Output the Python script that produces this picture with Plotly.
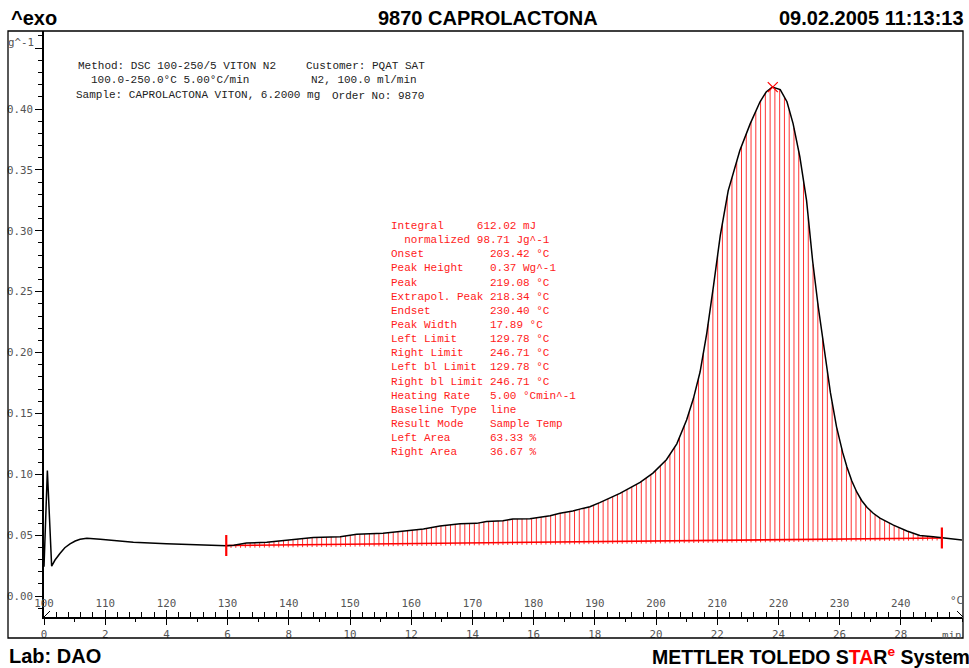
import numpy as np
import plotly.graph_objects as go

# ---------------- data ----------------
temp_c = [100.0, 100.55, 101.25, 101.8, 102.6, 103.4, 104.25, 105.1, 105.9, 107.0,
          109.2, 111.3, 114.6, 120.0, 125.5, 129.8, 131.0, 133.1, 136.4, 140.2,
          144.0, 148.4, 151.1, 155.4, 158.2, 162.0, 164.7, 168.0, 170.7, 172.3,
          175.0, 176.6, 179.4, 182.7, 184.3, 186.4, 188.0, 189.2, 190.8, 194.1,
          197.4, 199.5, 201.7, 203.4, 205.0, 206.1, 207.2, 208.3, 209.4, 210.5,
          211.8, 213.7, 215.4, 217.0, 218.0, 219.0, 220.3, 221.4, 222.4, 223.5,
          224.6, 225.6, 226.5, 227.5, 228.5, 229.5, 230.5, 231.2, 232.0, 232.8,
          233.6, 234.5, 235.5, 236.6, 238.8, 241.0, 243.1, 245.3, 246.7, 248.6,
          250.0]
heat_flow = [0.024, 0.103, 0.0246, 0.0296, 0.035, 0.0397, 0.0428, 0.0452, 0.0466, 0.0475,
             0.0467, 0.0455, 0.0442, 0.0430, 0.0420, 0.0413, 0.0418, 0.0435, 0.0441, 0.0460,
             0.0481, 0.0487, 0.0507, 0.0515, 0.0528, 0.0550, 0.0575, 0.0594, 0.0597, 0.0613,
             0.0619, 0.0632, 0.0635, 0.0660, 0.0680, 0.0698, 0.0720, 0.0734, 0.0767, 0.0843,
             0.0933, 0.1010, 0.1120, 0.1250, 0.1446, 0.1620, 0.1840, 0.2160, 0.2550, 0.2960,
             0.3330, 0.3660, 0.3880, 0.4060, 0.4140, 0.4180, 0.4160, 0.4060, 0.3880, 0.3610,
             0.3250, 0.2750, 0.2380, 0.2020, 0.1670, 0.1390, 0.1180, 0.1060, 0.0945, 0.0855,
             0.0785, 0.0728, 0.0680, 0.0640, 0.0583, 0.0534, 0.0498, 0.0487, 0.0479, 0.0466,
             0.0460]

baseline_temp = [129.78, 246.71]
baseline_val = [0.0415, 0.0477]
peak_temp = [219.08]
peak_val = [0.418]

temp_ticks = list(range(100, 250, 10))
time_ticks = list(range(0, 30, 2))
y_ticks = [0.00, 0.05, 0.10, 0.15, 0.20, 0.25, 0.30, 0.35, 0.40, 0.45]
y_ticktext = ["0.00", "0.05", "0.10", "0.15", "0.20", "0.25", "0.30", "0.35", "0.40", " "]

title_left = "^exo"
title_mid = "9870 CAPROLACTONA"
title_right = "09.02.2005 11:13:13"
footer_left = "Lab: DAO"

method_left = ["Method: DSC 100-250/5 VITON N2",
               "100.0-250.0°C 5.00°C/min",
               "Sample: CAPROLACTONA VITON, 6.2000 mg"]
method_right = ["Customer: PQAT SAT", "N2, 100.0 ml/min", "Order No: 9870"]

results_lines = [
    "Integral     612.02 mJ",
    "  normalized 98.71 Jg^-1",
    "Onset          203.42 °C",
    "Peak Height    0.37 Wg^-1",
    "Peak           219.08 °C",
    "Extrapol. Peak 218.34 °C",
    "Endset         230.40 °C",
    "Peak Width     17.89 °C",
    "Left Limit     129.78 °C",
    "Right Limit    246.71 °C",
    "Left bl Limit  129.78 °C",
    "Right bl Limit 246.71 °C",
    "Heating Rate   5.00 °Cmin^-1",
    "Baseline Type  line",
    "Result Mode    Sample Temp",
    "Left Area      63.33 %",
    "Right Area     36.67 %",
]

# ---------------- layout helpers ----------------
W, H = 969, 668
PL, PR, PT, PB = 44, 962, 31, 617


def px(x):
    return (x - PL) / (PR - PL)


def py(y):
    return (PB - y) / (PB - PT)


def nb(s):
    return s.replace(" ", "\u00a0")


MONO = "Liberation Mono"
SANSMONO = "DejaVu Sans Mono"
BOLD = "Liberation Sans"

# hatch lines between baseline and curve
N_HATCH = 151
hx = np.linspace(baseline_temp[0], baseline_temp[1], N_HATCH)
hb = np.interp(hx, baseline_temp, baseline_val)
hc = np.interp(hx, temp_c, heat_flow)
hatch_x, hatch_y = [], []
for a, b, c in zip(hx, hb, hc):
    hatch_x += [a, a, None]
    hatch_y += [b - 0.002, c, None]

fig = go.Figure()
fig.add_trace(go.Scatter(x=hatch_x, y=hatch_y, mode="lines",
                         line=dict(color="rgba(255,0,0,0.8)", width=1),
                         hoverinfo="skip", showlegend=False))
fig.add_trace(go.Scatter(x=baseline_temp, y=baseline_val, mode="lines",
                         line=dict(color="red", width=1.6), showlegend=False))
fig.add_trace(go.Scatter(x=temp_c, y=heat_flow, mode="lines",
                         line=dict(color="black", width=1.5), showlegend=False))
fig.add_trace(go.Scatter(x=peak_temp, y=peak_val, mode="markers",
                         marker=dict(symbol="x-thin-open", size=10, color="red",
                                     line=dict(color="red", width=1.2)),
                         showlegend=False))
fig.add_trace(go.Scatter(x=baseline_temp, y=baseline_val, mode="markers",
                         marker=dict(symbol="line-ns-open", size=15, color="red",
                                     line=dict(color="red", width=2.2)),
                         showlegend=False))
# time axis (dummy trace to attach x2)
fig.add_trace(go.Scatter(x=[0, 30], y=[None, None], xaxis="x2", yaxis="y",
                         mode="lines", showlegend=False, hoverinfo="skip"))

tick_font = dict(family=SANSMONO, size=10.8, color="#555555")

fig.update_layout(
    width=W, height=H,
    margin=dict(l=PL, r=W - PR, t=PT, b=H - PB),
    paper_bgcolor="white", plot_bgcolor="white",
    showlegend=False,
    xaxis=dict(
        range=[100, 250], side="bottom", showgrid=False, zeroline=False,
        showline=True, linecolor="black", linewidth=1.5,
        tickmode="array", tickvals=temp_ticks,
        ticks="inside", ticklen=7, tickwidth=1.2, tickcolor="black",
        ticklabelposition="inside", ticklabeloverflow="allow",
        tickfont=tick_font,
        minor=dict(dtick=2, tick0=100, ticks="inside", ticklen=5,
                   tickwidth=1, tickcolor="black", showgrid=False),
    ),
    xaxis2=dict(
        range=[0, 30], overlaying="x", anchor="y", side="bottom",
        showgrid=False, zeroline=False, showline=False,
        tickmode="array", tickvals=time_ticks,
        ticks="outside", ticklen=7, tickwidth=1.2, tickcolor="black",
        tickfont=tick_font, ticklabeloverflow="allow",
        minor=dict(dtick=1, tick0=0, ticks="outside", ticklen=4,
                   tickwidth=1, tickcolor="black", showgrid=False),
    ),
    yaxis=dict(
        range=[-0.0172, 0.4641], showgrid=False, zeroline=False,
        showline=True, linecolor="black", linewidth=1.5,
        tickmode="array", tickvals=y_ticks, ticktext=y_ticktext,
        ticks="outside", ticklen=7, tickwidth=1.2, tickcolor="black",
        tickfont=tick_font, ticklabeloverflow="allow",
        minor=dict(dtick=0.01, tick0=0, ticks="outside", ticklen=4,
                   tickwidth=1, tickcolor="black", showgrid=False),
    ),
)

shapes = [
    dict(type="rect", xref="paper", yref="paper",
         x0=px(8), x1=px(963), y0=py(638), y1=py(31),
         line=dict(color="black", width=1.3), layer="above"),
    dict(type="line", xref="paper", yref="paper",
         x0=px(44), y0=py(617), x1=px(50), y1=py(611),
         line=dict(color="black", width=1)),
    dict(type="line", xref="paper", yref="paper",
         x0=px(957), y0=py(611), x1=px(963), y1=py(617),
         line=dict(color="black", width=1)),
]
fig.update_layout(shapes=shapes)

ann = []


def add_text(text, x, y, xanchor="left", font=None):
    ann.append(dict(text=text, x=px(x), y=py(y), xref="paper", yref="paper",
                    xanchor=xanchor, yanchor="middle", showarrow=False,
                    font=font, align="left"))


hdr = dict(family=BOLD, size=20, color="black", weight="bold")
add_text(title_left, 9, 18, "left", hdr)
add_text(title_mid, 488, 18, "center", hdr)
add_text(title_right, 966, 18, "right", hdr)
add_text(footer_left, 7, 656, "left", hdr)
add_text("METTLER TOLEDO S<span style='color:red'>TA</span>R"
         "<sup><span style='color:red'>e</span></sup> System",
         650, 656, "left", dict(family=BOLD, size=19.5, color="black", weight="bold"))

mfont = dict(family=MONO, size=11, color="#222222")
for t, (x, y) in zip(method_left, [(79, 66), (92, 80), (77, 95)]):
    add_text(nb(t), x - 3, y, "left", mfont)
for t, (x, y) in zip(method_right, [(307, 66), (312, 80), (333, 96)]):
    add_text(nb(t), x - 3, y, "left", mfont)

rfont = dict(family=MONO, size=11, color="#ff1a1a")
for i, t in enumerate(results_lines):
    add_text(nb(t), 389, 226 + i * 14.15, "left", rfont)

add_text("°C", 965, 600, "right", tick_font)
add_text("min", 964, 635, "right", tick_font)
add_text("g^-1", 6, 43, "left", tick_font)

fig.update_layout(annotations=ann)

fig.write_html("out.html")
